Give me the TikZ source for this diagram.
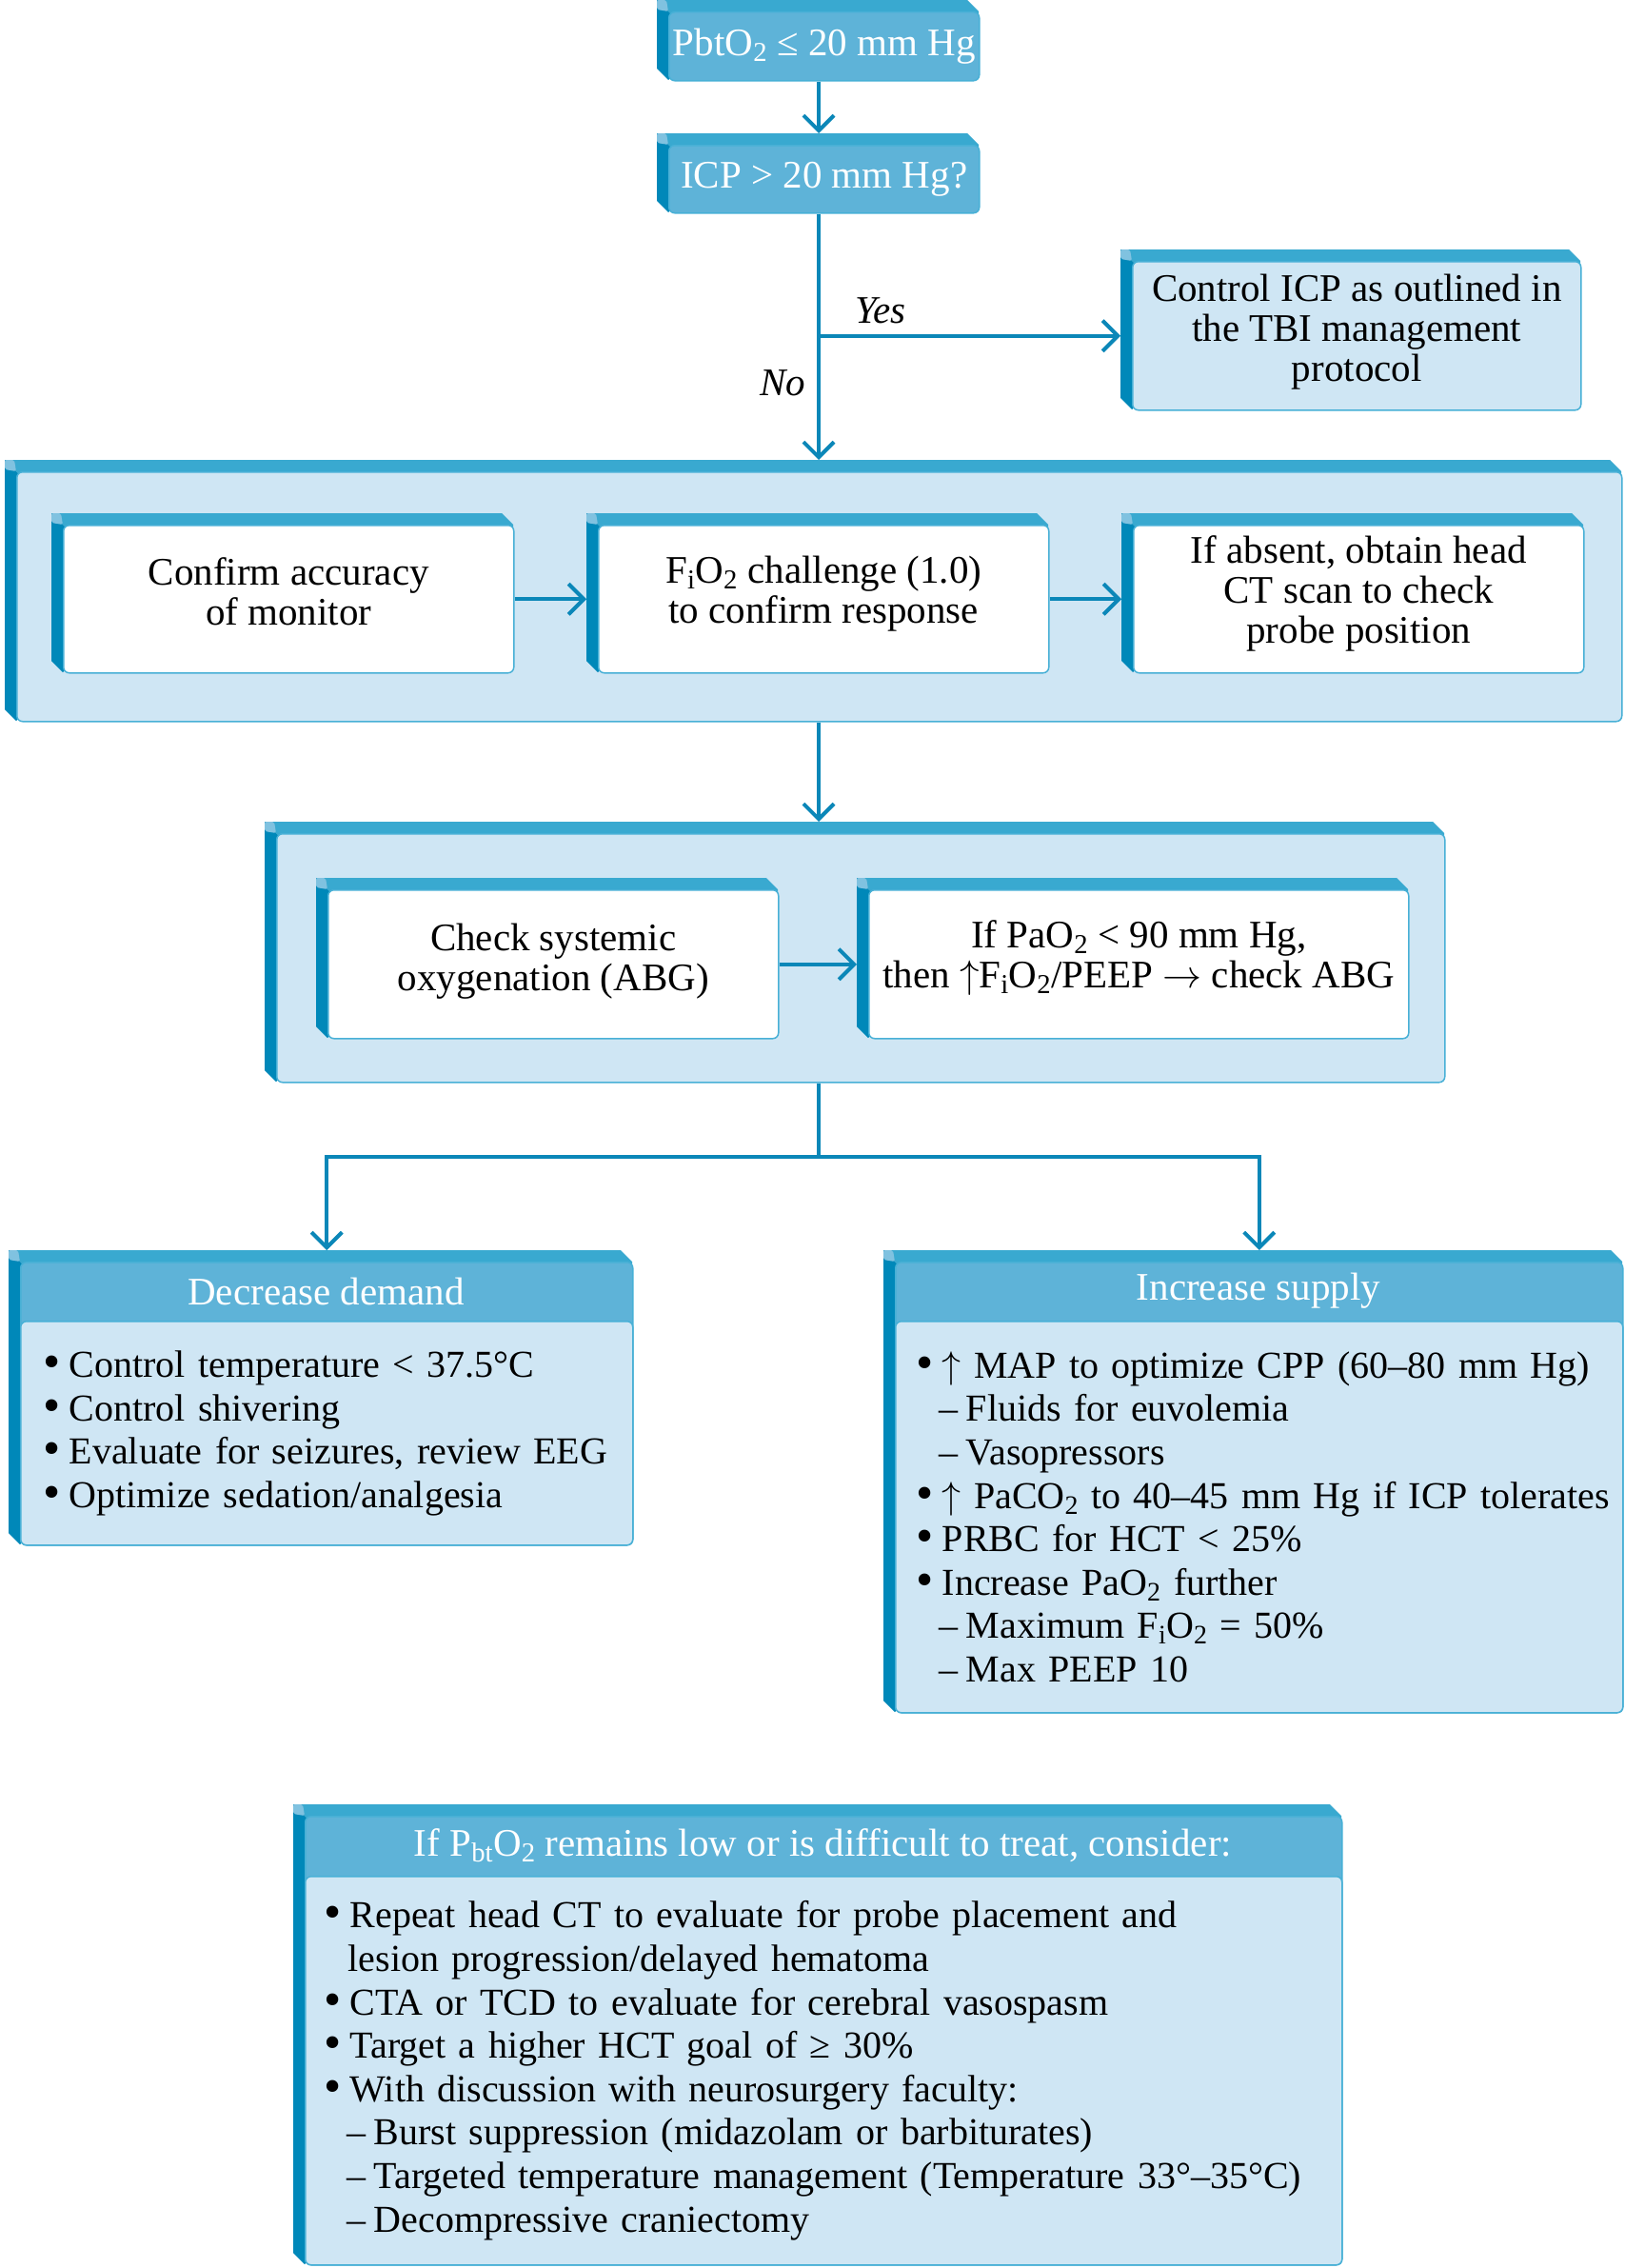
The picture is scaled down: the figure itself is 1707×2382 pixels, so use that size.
\RequirePackage{fix-cm}
\documentclass[tikz,border=0pt]{standalone}
\usepackage{fontspec}
\usepackage{graphicx}
\setmainfont{Liberation Serif}
\usetikzlibrary{arrows.meta,calc}
\definecolor{dkb}{HTML}{0088B9}
\definecolor{mdb}{HTML}{39A9D0}
\definecolor{hlb}{HTML}{80C2E0}
\definecolor{hdb}{HTML}{5EB3D8}
\definecolor{ltb}{HTML}{CFE6F4}
\definecolor{arb}{HTML}{0B87B8}
\definecolor{edb}{HTML}{48B0D6}
\newcommand\sbs[1]{\textsubscript{#1}}
\newcommand\bl[1]{\mbox{\makebox[27pt][l]{\raisebox{-1pt}{\scalebox{1.3}{•}}}#1}}
\newcommand\dl[1]{\mbox{\hspace*{24pt}\makebox[28pt][l]{–}#1}}
\newcommand\cl[1]{\mbox{\hspace*{25pt}#1}}
\newcommand\up{$\uparrow$}
\newcommand\bevel[4]{%
 \fill[mdb] ({#1-12},{#2-12}) -- ({#3-12},{#2-12}) -- (#3,#2) -- (#3,{#2+6}) -- ({#1+6},{#2+6}) -- cycle;
 \fill[dkb] ({#1-12},{#2-12}) -- ({#1+6},{#2+6}) -- ({#1+6},{#4-6}) -- (#1,#4) -- ({#1-12},{#4-12}) -- cycle;
 \fill[hlb, rounded corners=2] ({#1-12},{#2-12}) -- ({#1-2},{#2-12}) -- (#1,#2) -- ({#1-12},{#2-2}) -- cycle;
}
% name x1 y1 x2 y2 style text-up-shift text
\newcommand\bbox[8]{%
 \bevel{#2}{#3}{#4}{#5}
 \node[face,#6,minimum width={#4-#2},minimum height={#5-#3}] (#1) at (#2,#3) {};
 \node[txt,#6] (#1t) at ($(#1.center)+(0,-#7)$) {#8};
}
\newcommand\hdrbox[9]{%
 \bevel{#2}{#3}{#4}{#6}
 \node[face,fill=hdb,minimum width={#4-#2},minimum height={#6-#3}] (#1) at (#2,#3) {};
 \node[hdr] (#1h) at ({(#2+#4)/2},{(#3+#5)/2}) {#8};
 \pgfmathsetmacro\tw{#4-#2-2*#7}
 \node[face,fill=ltb,minimum width={#4-#2},minimum height={#6-#5},inner xsep=#7,text width=\tw pt,align=left,font=\fontsize{40}{45.6}\selectfont] (#1b) at (#2,#5) {#9};
}
\tikzset{
 face/.style={draw=edb, line width=1.5, rounded corners=6, anchor=north west, inner sep=0, align=center},
 txt/.style={draw=none, fill=none, inner sep=0, align=center, font=\fontsize{41}{42}\selectfont},
 topbox/.style={fill=hdb, text=white},
 hdr/.style={text=white, font=\fontsize{41}{42}\selectfont, inner sep=0},
 lbl/.style={font=\fontsize{41}{42}\selectfont\itshape, inner sep=0},
 arr/.style={draw=arb, line width=4, -{Straight Barb[length=16pt,width=32pt]}},
 ln/.style={draw=arb, line width=4}
}
\begin{document}
\begin{tikzpicture}[x=1pt,y=-1pt]
\useasboundingbox (0,0) rectangle (1707,2382);
\fill[white] (0,0) rectangle (1707,2382);

\bbox{top}{702}{12}{1028}{84}{topbox}{0}{PbtO\sbs{2} ≤ 20 mm Hg}
\bbox{icp}{702}{152}{1028}{223}{topbox}{0}{ICP > 20 mm Hg?}
\bbox{ctl}{1189}{274}{1660}{430}{fill=ltb}{4}{Control ICP as outlined in\\the TBI management\\protocol}

\bbox{p1}{17}{495}{1703}{757}{fill=ltb}{0}{}
\bbox{b1}{66}{551}{539}{706}{fill=white}{8}{Confirm accuracy\\of monitor}
\bbox{b2}{628}{551}{1101}{706}{fill=white}{6}{F\sbs{i}O\sbs{2} challenge (1.0)\\to confirm response}
\bbox{b3}{1190}{551}{1663}{706}{fill=white}{6}{If absent, obtain head\\CT scan to check\\probe position}

\bbox{p2}{290}{875}{1517}{1136}{fill=ltb}{0}{}
\bbox{b4}{344}{934}{817}{1090}{fill=white}{3}{Check systemic\\oxygenation (ABG)}
\bbox{b5}{912}{934}{1479}{1090}{fill=white}{7}{If PaO\sbs{2} < 90 mm Hg,\\then \up F\sbs{i}O\sbs{2}/PEEP $\rightarrow$ check ABG}

\hdrbox{dd}{21}{1325}{664}{1387}{1622}{24}{Decrease demand}{%
\bl{Control temperature < 37.5°C}\\
\bl{Control shivering}\\
\bl{Evaluate for seizures, review EEG}\\
\bl{Optimize sedation/analgesia}}

\hdrbox{is}{940}{1325}{1704}{1387}{1798}{22}{Increase supply}{%
\bl{\up\ MAP to optimize CPP (60–80 mm Hg)}\\
\dl{Fluids for euvolemia}\\
\dl{Vasopressors}\\
\bl{\up\ PaCO\sbs{2} to 40–45 mm Hg if ICP tolerates}\\
\bl{PRBC for HCT < 25\%}\\
\bl{Increase PaO\sbs{2} further}\\
\dl{Maximum F\sbs{i}O\sbs{2} = 50\%}\\
\dl{Max PEEP 10}}

\hdrbox{bt}{320}{1907}{1409}{1970}{2378}{20}{If P\sbs{bt}O\sbs{2} remains low or is difficult to treat, consider:}{%
\bl{Repeat head CT to evaluate for probe placement and}\\
\cl{lesion progression/delayed hematoma}\\
\bl{CTA or TCD to evaluate for cerebral vasospasm}\\
\bl{Target a higher HCT goal of ≥ 30\%}\\
\bl{With discussion with neurosurgery faculty:}\\
\dl{Burst suppression (midazolam or barbiturates)}\\
\dl{Targeted temperature management (Temperature 33°–35°C)}\\
\dl{Decompressive craniectomy}}

\node[lbl] (yes) at (925,326) {Yes};
\node[lbl] (no) at (822,402) {No};

\coordinate (spine) at (860,0);
\coordinate (split) at (860,1215);
\draw[arr] (spine |- top.south) -- ($(spine |- icp.north)+(0,-12)$);
\draw[arr] (spine |- icp.south) -- ($(spine |- p1.north)+(0,-12)$);
\draw[arr] (spine |- ctl.west) -- ($(ctl.west)+(-12,0)$);
\draw[arr] (b1.east) -- ($(b2.west)+(-12,0)$);
\draw[arr] (b2.east) -- ($(b3.west)+(-12,0)$);
\draw[arr] (spine |- p1.south) -- ($(spine |- p2.north)+(0,-12)$);
\draw[arr] (b4.east) -- ($(b5.west)+(-12,0)$);
\draw[ln] (spine |- p2.south) -- (split);
\draw[arr] (split) -| ($(dd.north)+(0,-12)$);
\draw[arr] (split) -| ($(is.north)+(0,-12)$);
\end{tikzpicture}
\end{document}
